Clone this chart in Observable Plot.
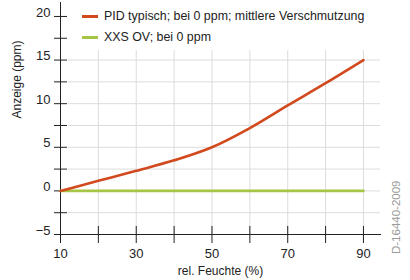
<!DOCTYPE html>
<html><head><meta charset="utf-8">
<script src="https://cdn.jsdelivr.net/npm/d3@7"></script>
<script src="https://cdn.jsdelivr.net/npm/@observablehq/plot@0.6"></script>
<style>
body{margin:0;background:#fff;font-family:"Liberation Sans",Arial,sans-serif;}
#wrap{position:relative;width:410px;height:280px;}
.legend{position:absolute;left:82px;top:6px;font-size:12.4px;color:#222;line-height:21px;}
.legend div{display:flex;align-items:center;white-space:nowrap;}
.legend span.sw{display:inline-block;width:16px;height:3px;margin-right:6px;}
</style>
</head><body>
<div id="wrap"></div>
<script>
const humidity = [10, 20, 30, 40, 50, 60, 70, 80, 90];
const pidValues = [0, 1.15, 2.3, 3.5, 5.0, 7.2, 9.8, 12.35, 15.0];
const xxsValues = [0, 0, 0, 0, 0, 0, 0, 0, 0];
const seriesNames = ["PID typisch; bei 0 ppm; mittlere Verschmutzung", "XXS OV; bei 0 ppm"];
const seriesColors = ["#d2491d", "#a6c544"];
const xTicks = [10, 20, 30, 40, 50, 60, 70, 80, 90];
const xTickLabels = [10, 30, 50, 70, 90];
const yTicks = [-5, -2.5, 0, 2.5, 5, 7.5, 10, 12.5, 15, 17.5, 20];
const yTickLabels = [-5, 0, 5, 10, 15, 20];
const gridY = [-2.5, 0, 2.5, 5, 7.5, 10, 12.5, 15];
const gridX = [20, 30, 40, 50, 60, 70, 80, 90];
const xTitle = "rel. Feuchte (%)";
const yTitle = "Anzeige (ppm)";
const docId = "D-16440-2009";

const pid = humidity.map((h, i) => ({h, v: pidValues[i]}));
const xxs = humidity.map((h, i) => ({h, v: xxsValues[i]}));

const chart = Plot.plot({
  width: 410, height: 280,
  marginLeft: 60, marginRight: 30, marginTop: 2, marginBottom: 46,
  style: {fontFamily: '"Liberation Sans", Arial, sans-serif', fontSize: "13px", color: "#222", background: "#fff"},
  x: {domain: [10, 94.5]},
  y: {domain: [-5, 21.6]},
  marks: [
    Plot.ruleY(gridY, {stroke: "#dcdcdc", strokeWidth: 1, insetLeft: 8}),
    Plot.ruleX(gridX, {stroke: "#dcdcdc", strokeWidth: 1, insetTop: 48}),
    Plot.frame({anchor: "left", stroke: "#222"}),
    Plot.frame({anchor: "bottom", stroke: "#222"}),
    Plot.axisY({ticks: yTicks, tickSize: 13, dx: 7, fill: "none", stroke: "#222", label: null}),
    Plot.axisY({ticks: yTickLabels, tickSize: 0, tickPadding: 10, dy: -4, label: null, fontSize: 13, fill: "#222"}),
    Plot.axisX({ticks: xTicks, tickSize: 17, dy: -8, fill: "none", stroke: "#222", label: null}),
    Plot.axisX({ticks: xTickLabels, tickSize: 0, tickPadding: 14, label: null, fontSize: 13, fill: "#222"}),
    Plot.line(xxs, {x: "h", y: "v", stroke: seriesColors[1], strokeWidth: 2.6}),
    Plot.line(pid, {x: "h", y: "v", stroke: seriesColors[0], strokeWidth: 2.6, curve: "catmull-rom"}),
    Plot.text([yTitle], {frameAnchor: "left", rotate: -90, dx: -43, fontSize: 12, fill: "#222"}),
    Plot.text([xTitle], {frameAnchor: "bottom", dy: 40, fontSize: 12, fill: "#222"}),
    Plot.text([docId], {frameAnchor: "right", rotate: -90, dx: 16, dy: 62, fontSize: 11.5, fill: "#9a9a9a"})
  ]
});
const wrap = document.getElementById("wrap");
wrap.appendChild(chart);
const leg = document.createElement("div");
leg.className = "legend";
seriesNames.forEach((n, i) => {
  const row = document.createElement("div");
  const sw = document.createElement("span");
  sw.className = "sw"; sw.style.background = seriesColors[i];
  row.appendChild(sw);
  row.appendChild(document.createTextNode(n));
  leg.appendChild(row);
});
wrap.appendChild(leg);
</script>
</body></html>
